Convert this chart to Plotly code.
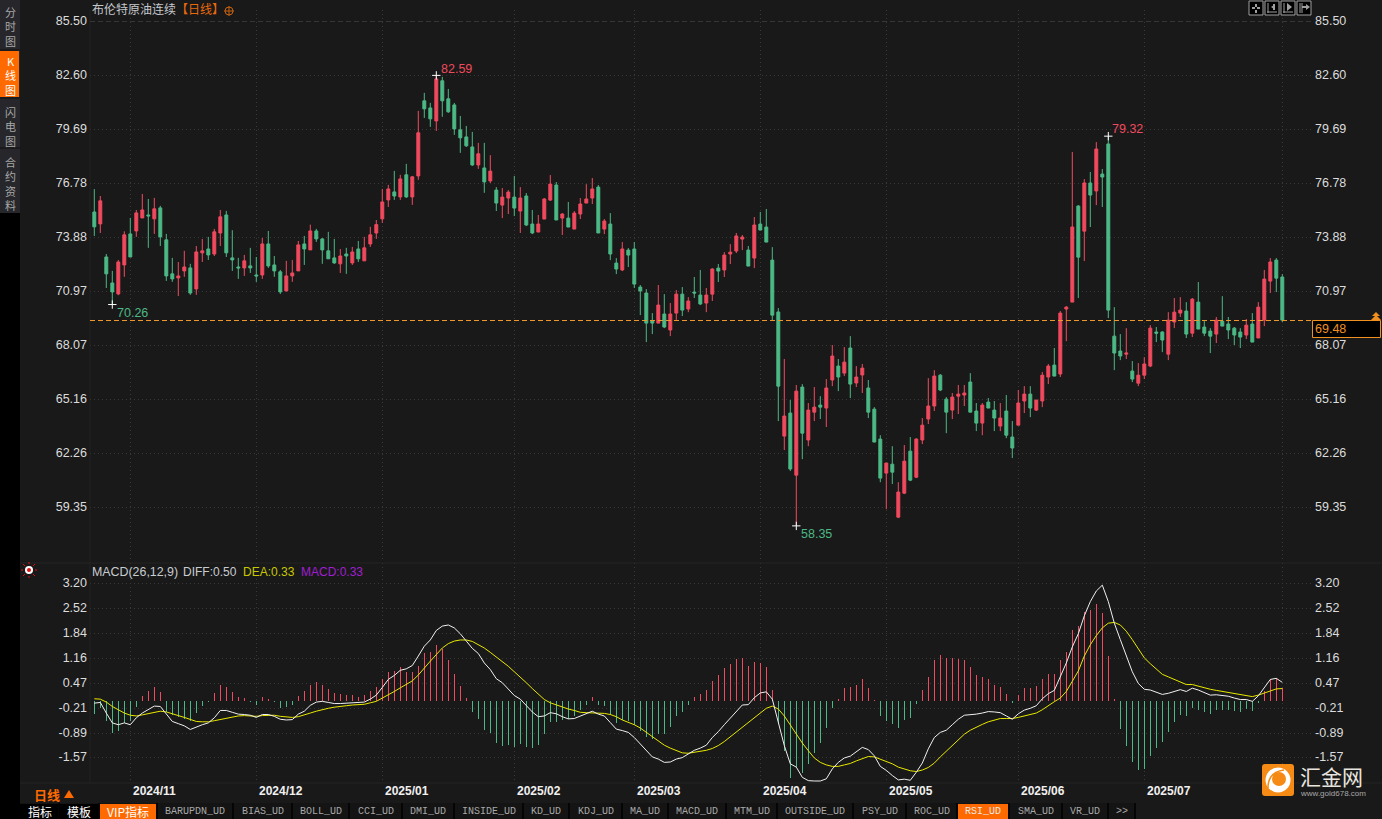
import plotly.graph_objects as go

opens = [75.24,74.60,72.82,71.42,70.83,72.39,74.06,74.22,74.92,75.08,74.87,75.46,73.74,71.91,71.69,72.07,72.23,71.10,73.04,73.25,72.98,74.11,75.08,72.77,72.28,72.23,72.34,71.85,71.85,73.52,72.39,72.02,70.99,71.80,72.07,73.52,73.20,74.22,73.79,73.15,72.77,72.45,72.98,72.50,73.25,72.61,73.52,74.11,74.87,75.89,76.32,76.05,77.24,76.05,77.18,81.22,80.84,80.14,82.30,81.33,81.00,79.66,79.28,78.74,77.77,77.61,
76.91,76.42,75.61,75.99,76.04,75.29,76.10,74.59,74.16,74.86,75.88,76.69,74.91,74.91,74.32,75.13,75.72,75.99,76.58,74.32,74.59,72.49,72.12,73.19,73.25,71.20,70.88,69.37,69.26,69.75,68.89,69.80,70.82,70.02,70.93,70.77,70.34,70.82,72.22,72.12,72.98,73.14,73.78,73.19,72.76,74.59,74.43,72.65,69.86,63.18,64.42,61.08,65.82,62.97,64.47,64.85,64.69,66.20,66.95,66.57,67.92,66.04,66.47,65.77,64.63,
63.02,61.19,61.67,58.82,60.11,62.37,60.97,62.97,64.10,64.80,66.46,65.17,64.58,65.33,65.39,66.09,64.53,63.88,65.01,64.58,63.72,64.53,63.13,63.77,65.07,65.44,64.58,65.07,66.36,67.00,66.52,70.02,70.39,75.56,74.21,76.80,76.37,77.28,78.90,68.56,67.76,67.59,66.68,66.03,66.46,66.95,68.78,68.78,67.59,69.32,69.80,69.91,68.72,70.39,69.05,68.83,68.67,69.37,69.21,68.99,68.78,68.62,69.21,68.46,69.42,71.52,72.65,71.74]
highs = [76.47,76.10,72.98,72.07,72.66,74.20,74.92,75.35,76.21,75.94,76.00,75.57,74.06,72.77,72.55,73.15,72.45,73.41,73.79,73.90,74.33,75.35,75.30,74.26,72.77,72.93,73.31,72.82,73.84,74.22,72.87,72.12,72.61,72.66,73.68,73.95,74.56,74.33,73.84,74.17,73.79,73.25,73.31,73.36,73.68,73.90,74.44,74.81,76.48,76.70,77.45,77.24,77.83,77.18,80.68,81.65,81.11,82.59,82.51,81.86,81.11,80.41,79.87,79.55,78.96,78.96,
78.30,76.58,76.53,76.42,77.18,76.58,76.26,75.35,75.08,75.99,77.23,76.85,75.18,75.78,75.29,75.99,76.74,77.07,76.69,74.86,75.18,72.76,73.62,73.30,73.62,71.31,71.09,69.80,71.31,70.82,70.34,71.04,71.20,70.66,71.74,72.12,71.15,72.22,72.44,73.08,73.51,74.11,74.00,73.41,74.97,75.24,75.40,73.35,70.07,67.33,65.12,65.93,65.98,64.96,65.82,65.33,66.25,68.08,67.33,67.97,68.56,66.95,67.06,66.20,64.74,
63.23,61.73,62.64,60.70,62.70,63.13,63.07,64.15,66.30,66.73,66.52,65.28,65.50,65.93,65.93,66.57,64.96,64.96,65.23,65.07,64.96,65.39,63.99,65.66,65.87,65.87,65.12,66.63,67.06,67.92,69.91,70.18,78.47,75.61,77.01,77.39,79.00,77.55,79.32,70.12,68.67,68.99,67.22,67.11,67.43,69.15,69.05,68.83,69.85,70.61,70.66,70.39,70.61,71.47,69.37,68.99,69.59,70.71,69.59,69.05,68.99,69.48,69.80,70.39,72.12,72.76,72.76,71.90]
lows = [73.95,74.11,71.15,70.26,70.76,71.75,72.82,73.90,74.92,73.31,74.06,73.41,71.53,71.48,70.72,71.75,70.78,70.78,72.55,72.66,72.87,73.41,72.82,72.07,71.64,71.80,71.96,71.48,71.64,72.23,71.75,70.83,70.99,71.48,72.07,72.39,73.20,73.63,72.45,72.72,72.45,71.96,71.91,72.39,72.55,72.61,73.36,73.79,74.65,75.51,75.89,75.89,76.00,75.62,76.97,80.30,79.82,79.60,80.36,80.57,79.39,78.42,78.74,77.72,77.56,76.27,
76.80,75.29,74.91,75.13,75.02,74.11,74.48,74.05,74.16,74.86,75.83,74.81,74.00,74.43,74.32,74.86,75.72,75.67,74.11,74.05,72.65,71.90,72.06,72.28,71.15,69.69,68.24,68.67,69.26,68.99,68.56,69.43,69.64,69.85,70.61,70.23,69.85,70.45,71.47,71.74,72.44,73.03,73.19,72.33,72.22,74.27,73.62,69.42,63.99,62.43,61.30,58.35,61.94,62.64,63.99,64.10,63.67,65.87,65.60,66.41,65.23,65.82,65.50,64.15,62.86,
60.70,59.25,60.60,58.77,60.06,60.76,60.92,62.75,63.83,64.53,65.60,63.34,64.10,64.37,64.80,64.47,63.45,63.23,64.69,63.45,63.45,63.07,62.00,63.77,64.42,64.20,64.53,64.74,65.98,66.41,66.36,68.29,70.39,70.61,72.60,74.43,75.61,75.51,69.53,66.73,67.27,67.33,66.09,65.87,66.25,66.89,68.24,67.70,67.27,68.99,69.59,68.46,68.51,68.94,68.56,67.65,68.19,69.10,68.40,68.08,67.92,68.40,68.24,68.46,69.10,70.88,70.93,69.32]
closes = [74.44,75.84,71.91,70.94,72.55,74.01,72.82,75.19,75.35,75.03,75.41,73.90,71.80,71.64,71.80,72.28,70.88,73.09,73.15,72.93,74.17,74.98,73.04,72.66,72.23,72.61,72.23,71.80,73.52,72.34,72.07,70.94,71.80,71.96,73.47,73.25,74.22,73.79,73.20,72.72,72.50,72.87,72.87,73.09,72.72,73.31,74.01,74.56,75.78,76.48,76.10,77.02,76.05,77.13,79.50,80.79,80.25,82.40,81.22,80.63,79.71,79.23,78.80,77.77,78.37,76.86,
77.44,75.72,76.04,76.31,75.45,75.99,74.54,74.11,74.59,75.94,76.74,74.81,75.13,74.43,75.18,75.67,75.94,76.48,74.11,74.75,72.98,72.17,73.25,72.92,71.36,70.99,69.26,69.26,70.23,69.05,69.75,70.82,69.96,70.45,70.88,70.29,70.77,72.17,72.06,72.92,73.08,73.95,73.89,72.33,74.54,74.27,73.62,69.69,65.87,64.26,61.41,65.60,63.34,64.58,64.74,64.74,65.77,67.49,66.36,67.16,65.98,66.36,66.84,64.47,62.86,
60.92,61.73,61.24,60.17,61.83,60.81,63.02,63.77,64.80,66.41,65.66,64.47,65.28,65.44,65.50,64.47,63.88,64.85,64.69,64.15,64.15,63.23,62.54,64.96,65.44,64.69,65.12,66.46,66.95,66.41,69.80,70.12,74.43,72.81,76.80,76.15,78.63,77.12,69.96,67.65,67.49,67.65,66.25,66.46,67.06,68.99,68.72,68.35,69.42,69.85,69.96,68.67,70.55,68.94,68.72,68.56,69.42,69.10,68.89,68.62,68.51,69.15,68.24,70.12,71.63,72.55,71.68,69.42]

macd_hist = [-0.37,-0.19,-0.57,-0.88,-0.83,-0.61,-0.55,-0.18,0.12,0.25,0.36,0.23,-0.31,-0.38,-0.45,-0.49,-0.55,-0.34,-0.15,-0.05,0.20,0.44,0.36,0.23,0.09,0.06,-0.05,-0.13,0.09,0.04,-0.05,-0.19,-0.18,-0.13,0.12,0.25,0.44,0.50,0.42,0.31,0.20,0.17,0.15,0.15,0.09,0.15,0.25,0.36,0.58,0.77,0.80,0.91,0.77,0.77,0.96,1.29,1.32,1.51,1.40,1.12,0.74,0.39,0.06,-0.32,-0.51,-0.81,-0.89,-1.16,
-1.24,-1.22,-1.27,-1.19,-1.27,-1.30,-1.22,-0.92,-0.59,-0.59,-0.54,-0.51,-0.43,-0.26,-0.13,0.09,-0.13,-0.15,-0.40,-0.62,-0.54,-0.56,-0.67,-0.83,-1.00,-1.05,-0.92,-0.92,-0.73,-0.43,-0.32,-0.13,0.09,0.17,0.28,0.55,0.69,0.88,0.99,1.15,1.18,0.96,1.07,1.04,0.91,0.28,-0.64,-1.38,-2.11,-1.81,-1.98,-1.73,-1.43,-1.16,-0.75,-0.21,0.04,0.34,0.36,0.44,0.58,0.34,0.02,-0.43,-0.56,-0.64,-0.75,-0.54,-0.48,-0.10,0.28,0.66,1.12,1.26,1.18,
1.18,1.15,1.12,0.93,0.69,0.66,0.58,0.44,0.36,0.17,-0.07,0.15,0.34,0.34,0.39,0.58,0.72,0.72,1.10,1.34,1.94,2.05,2.43,2.49,2.65,2.40,1.21,0.04,-0.78,-1.24,-1.68,-1.90,-1.87,-1.51,-1.30,-1.13,-0.86,-0.59,-0.40,-0.43,-0.21,-0.26,-0.32,-0.37,-0.26,-0.26,-0.26,-0.29,-0.32,-0.24,-0.29,-0.07,0.25,0.58,0.63,0.34]
macd_diff = [-0.07,-0.05,-0.34,-0.61,-0.66,-0.61,-0.66,-0.47,-0.34,-0.24,-0.15,-0.16,-0.37,-0.57,-0.63,-0.69,-0.79,-0.72,-0.66,-0.61,-0.47,-0.27,-0.27,-0.32,-0.37,-0.38,-0.40,-0.46,-0.38,-0.38,-0.43,-0.51,-0.53,-0.52,-0.37,-0.29,-0.13,-0.04,-0.02,-0.05,-0.08,-0.08,-0.07,-0.05,-0.05,-0.04,0.04,0.15,0.36,0.58,0.69,0.83,0.87,0.96,1.22,1.49,1.66,1.92,2.04,2.07,1.99,1.83,1.63,1.43,1.29,1.03,0.85,0.60,
0.49,0.31,0.14,0.04,-0.15,-0.31,-0.44,-0.42,-0.33,-0.36,-0.44,-0.50,-0.49,-0.42,-0.34,-0.29,-0.37,-0.42,-0.60,-0.78,-0.82,-0.87,-1.01,-1.19,-1.37,-1.54,-1.60,-1.69,-1.68,-1.60,-1.56,-1.47,-1.36,-1.30,-1.22,-1.01,-0.85,-0.66,-0.47,-0.28,-0.12,-0.11,0.08,0.21,0.24,0.04,-0.60,-1.23,-1.73,-1.82,-2.10,-2.19,-2.20,-2.20,-2.14,-1.87,-1.69,-1.57,-1.52,-1.40,-1.28,-1.34,-1.51,-1.80,-1.91,-2.05,-2.17,-2.15,-2.18,-1.96,-1.71,-1.32,-1.01,-0.87,-0.81,
-0.66,-0.51,-0.40,-0.39,-0.37,-0.34,-0.30,-0.31,-0.33,-0.42,-0.51,-0.36,-0.26,-0.21,-0.14,0.05,0.19,0.28,0.65,1.03,1.47,1.83,2.32,2.71,3.00,3.16,2.71,2.12,1.67,1.23,0.79,0.47,0.31,0.29,0.24,0.17,0.20,0.24,0.30,0.25,0.34,0.29,0.23,0.15,0.16,0.15,0.12,0.07,0.03,0.03,-0.02,0.13,0.35,0.58,0.61,0.50]
macd_dea = [0.05,0.04,-0.04,-0.16,-0.25,-0.34,-0.40,-0.42,-0.39,-0.35,-0.32,-0.29,-0.31,-0.35,-0.41,-0.46,-0.52,-0.57,-0.58,-0.58,-0.55,-0.52,-0.48,-0.44,-0.42,-0.41,-0.42,-0.43,-0.41,-0.40,-0.40,-0.43,-0.45,-0.46,-0.44,-0.40,-0.34,-0.29,-0.24,-0.21,-0.18,-0.15,-0.14,-0.12,-0.11,-0.10,-0.06,-0.02,0.07,0.15,0.25,0.35,0.44,0.54,0.70,0.90,1.08,1.26,1.44,1.56,1.63,1.66,1.66,1.62,1.54,1.44,1.32,1.19,
1.08,0.94,0.79,0.65,0.49,0.33,0.17,0.03,-0.06,-0.12,-0.17,-0.23,-0.27,-0.32,-0.33,-0.33,-0.34,-0.35,-0.38,-0.44,-0.53,-0.59,-0.66,-0.75,-0.87,-0.99,-1.10,-1.22,-1.30,-1.37,-1.43,-1.44,-1.42,-1.39,-1.36,-1.31,-1.23,-1.12,-0.99,-0.85,-0.72,-0.59,-0.45,-0.33,-0.21,-0.15,-0.23,-0.42,-0.67,-0.91,-1.16,-1.37,-1.57,-1.69,-1.76,-1.80,-1.80,-1.76,-1.72,-1.65,-1.58,-1.53,-1.54,-1.60,-1.66,-1.73,-1.82,-1.88,-1.92,-1.94,-1.90,-1.83,-1.71,-1.54,-1.39,
-1.23,-1.07,-0.92,-0.81,-0.72,-0.65,-0.58,-0.54,-0.49,-0.49,-0.49,-0.46,-0.42,-0.38,-0.34,-0.25,-0.13,-0.03,0.07,0.25,0.53,0.81,1.22,1.53,1.78,1.99,2.12,2.14,2.07,1.90,1.67,1.41,1.17,1.01,0.87,0.72,0.65,0.58,0.52,0.44,0.44,0.39,0.36,0.31,0.28,0.25,0.24,0.20,0.17,0.15,0.11,0.15,0.20,0.27,0.32,0.33]

price_ticks = [85.50, 82.60, 79.69, 76.78, 73.88, 70.97, 68.07, 65.16, 62.26, 59.35]
macd_ticks = [3.20, 2.52, 1.84, 1.16, 0.47, -0.21, -0.89, -1.57]
month_labels = ["2024/11", "2024/12", "2025/01", "2025/02", "2025/03", "2025/04", "2025/05", "2025/06", "2025/07"]
month_bars = [6, 27, 48, 70, 90, 111, 132, 154, 175]
extra_grid_bar = [198]
last_price = 69.48
price_line_level = 69.40
extreme_bars = [57, 3, 117, 169]
extreme_vals = [82.59, 70.26, 58.35, 79.32]
tab_names = ["指标", "模板", "VIP指标", "BARUPDN_UD", "BIAS_UD", "BOLL_UD", "CCI_UD", "DMI_UD", "INSIDE_UD", "KD_UD", "KDJ_UD", "MA_UD", "MACD_UD", "MTM_UD", "OUTSIDE_UD", "PSY_UD", "ROC_UD", "RSI_UD", "SMA_UD", "VR_UD", ">>"]
tab_edges = [20, 59, 99, 157, 233, 292, 349, 402, 454, 523, 569, 622, 668, 726, 777, 853, 906, 957, 1009, 1062, 1108, 1135]

W, H = 1382, 819
BG = "#191919"
RED = "#F04A5E"
GREEN = "#4CB885"
ORANGE = "#FF6A00"
GRID = "#383838"
CJK = "Noto Sans CJK SC"
SANS = "Liberation Sans"
MONO = "Liberation Mono"

def fx(px): return px / W
def fy(py): return 1 - py / H

shapes, annots = [], []

def rect(x0, y0, x1, y1, fill, line=None, lw=1):
    shapes.append(dict(type="rect", xref="paper", yref="paper", x0=fx(x0), x1=fx(x1), y0=fy(y0), y1=fy(y1),
                       fillcolor=fill, line=dict(color=line or fill, width=lw if line else 0), layer="above"))

def seg(x0, y0, x1, y1, color, lw=1, dash=None):
    ln = dict(color=color, width=lw)
    if dash:
        ln["dash"] = dash
    shapes.append(dict(type="line", xref="paper", yref="paper", x0=fx(x0), x1=fx(x1), y0=fy(y0), y1=fy(y1),
                       line=ln, layer="above"))

def circ(cx, cy, r, fill, line=None):
    shapes.append(dict(type="circle", xref="paper", yref="paper", x0=fx(cx - r), x1=fx(cx + r), y0=fy(cy + r), y1=fy(cy - r),
                       fillcolor=fill, line=dict(color=line or fill, width=1 if line else 0), layer="above"))

def poly(points, fill):
    d = "M " + " L ".join(f"{fx(x)} {fy(y)}" for x, y in points) + " Z"
    shapes.append(dict(type="path", xref="paper", yref="paper", path=d, fillcolor=fill, line=dict(width=0), layer="above"))

def text(x, y, s, color="#d8d8d8", size=12, font=SANS, anchor="left", bold=False):
    if bold:
        s = f"<b>{s}</b>"
    annots.append(dict(xref="paper", yref="paper", x=fx(x), y=fy(y), text=s, showarrow=False, xanchor=anchor, yanchor="middle",
                       font=dict(color=color, size=size, family=font), borderpad=0, borderwidth=0))

# left sidebar
rect(0, 0, 20, H, "#000000")
rect(0, 0, 20, 213, "#26262b")
rect(0, 51, 19, 97, ORANGE)
seg(0, 50, 20, 50, "#111111")
seg(0, 98, 20, 98, "#111111")
seg(0, 148, 20, 148, "#111111")
text(10, 27, "分<br>时<br>图", "#a8a8a8", 11, CJK, "center")
text(10, 75.5, "K<br>线<br>图", "#ffffff", 11, CJK, "center")
text(10, 126, "闪<br>电<br>图", "#a8a8a8", 11, CJK, "center")
text(10, 184, "合<br>约<br>资<br>料", "#a8a8a8", 11, CJK, "center")

# pane separators
seg(20, 563, 1382, 563, "#242424")
seg(20, 783, 1382, 783, "#242424")
seg(90, 10, 90, 783, "#222222")
seg(90, 21.5, 1312, 21.5, "#363636", 1, "4px,4px")

# header
text(92, 9, "布伦特原油连续", "#c4c8cc", 12, CJK)
text(176, 9, "【日线】", "#e8690c", 12, CJK)
circ(229, 11, 4, "rgba(0,0,0,0)", "#c8600c")
seg(224, 11, 234, 11, "#c8600c")
seg(229, 6, 229, 16, "#c8600c")

# toolbar icons
for x0 in (1249, 1265, 1281, 1297):
    rect(x0, 1, x0 + 14, 15, "#000000", "#a0a0a0")
seg(1252, 8, 1255, 8, "#a0a0a0", 2); seg(1257, 8, 1260, 8, "#a0a0a0", 2)
seg(1256, 4, 1256, 7, "#a0a0a0", 2); seg(1256, 10, 1256, 13, "#a0a0a0", 2)
seg(1268, 3, 1268, 13, "#a0a0a0"); seg(1267, 12, 1277, 12, "#a0a0a0")
seg(1274, 4, 1274, 10, "#a0a0a0", 2)
poly([(1274, 5), (1274, 9), (1271, 7)], "#a0a0a0")
seg(1284, 3, 1284, 13, "#a0a0a0"); seg(1283, 12, 1293, 12, "#a0a0a0")
poly([(1287, 3), (1287, 11), (1292, 7)], "#a0a0a0")
seg(1300, 3, 1300, 13, "#a0a0a0"); seg(1302, 3, 1302, 13, "#a0a0a0")
seg(1302, 7, 1307, 7, "#a0a0a0", 2)
poly([(1306, 4), (1306, 10), (1310, 7)], "#a0a0a0")

# price tag
rect(1312.5, 320.5, 1380.5, 337.5, "#000000", "#F09020")
text(1315, 329, f"{last_price:.2f}", "#F09020", 12.5)
poly([(1372, 316), (1380, 316), (1376, 312)], "#F09020")
poly([(1371, 320), (1381, 320), (1376, 315)], "#F09020")

# MACD header
text(92, 572, "MACD(26,12,9)", "#c8ccd0", 12.4)
text(183, 572, "DIFF:0.50", "#c8ccd0", 12)
text(243, 572, "DEA:0.33", "#c8c800", 12)
text(301, 572, "MACD:0.33", "#a01ed0", 12)
circ(29, 570, 4, "#ffffff")
circ(29, 570, 2, "#e01010")
for a, b, c, d in ((23, 570, 21, 570), (35, 570, 37, 570), (29, 564, 29, 562), (29, 576, 29, 578),
                   (25, 566, 23, 564), (33, 566, 35, 564), (25, 574, 23, 576), (33, 574, 35, 576)):
    seg(a, b, c, d, "#e01010")

# period label
text(34, 794, "日线", ORANGE, 13, CJK, bold=True)
poly([(64, 798), (74, 798), (69, 790)], ORANGE)

# bottom tabs
rect(20, 803, 1135, H, "#141414")
for i, name in enumerate(tab_names):
    x0, x1 = tab_edges[i], tab_edges[i + 1]
    mid = (x0 + x1) / 2
    if name in ("VIP指标", "RSI_UD"):
        rect(x0 + 1, 804, x1 - 1, H, ORANGE)
    if i < 2:
        rect(x0, 804, x1 - 1, H, "#000000")
    seg(x1, 803, x1, H, "#000000", 1.5)
    has_cjk = name in ("指标", "模板", "VIP指标")
    text(mid, 811.5, name, "#ffffff" if has_cjk else ("#e8e8e8" if name == "RSI_UD" else "#a8a8a8"),
         12 if i < 3 else 10, CJK if has_cjk else MONO, "center")

# watermark
r = 3
L, T, Rr, B = 1262, 764, 1294, 796
path = (f"M {fx(L+r)} {fy(T)} L {fx(Rr-r)} {fy(T)} Q {fx(Rr)} {fy(T)} {fx(Rr)} {fy(T+r)} L {fx(Rr)} {fy(B-r)} "
        f"Q {fx(Rr)} {fy(B)} {fx(Rr-r)} {fy(B)} L {fx(L+r)} {fy(B)} Q {fx(L)} {fy(B)} {fx(L)} {fy(B-r)} L {fx(L)} {fy(T+r)} "
        f"Q {fx(L)} {fy(T)} {fx(L+r)} {fy(T)} Z")
shapes.append(dict(type="path", xref="paper", yref="paper", path=path, fillcolor="#F58A14", line=dict(width=0), layer="above"))
circ(1278, 780, 12.5, "#ffffff")
circ(1279, 779, 7, "#F58A14")
arc = f"M {fx(1268)} {fy(788)} Q {fx(1268)} {fy(772)} {fx(1284)} {fy(770)}"
shapes.append(dict(type="path", xref="paper", yref="paper", path=arc, line=dict(color="#F58A14", width=1.5), layer="above"))
text(1300, 775.5, "汇金网", "#e8e4de", 21, CJK)
text(1300, 793, "www.gold678.com", "#a8a8a8", 8, SANS)

traces = []
bars = list(range(len(opens)))
traces.append(go.Candlestick(x=bars, open=opens, high=highs, low=lows, close=closes, xaxis="x", yaxis="y",
                             increasing=dict(line=dict(color=RED, width=1), fillcolor=RED),
                             decreasing=dict(line=dict(color=GREEN, width=1), fillcolor=GREEN),
                             whiskerwidth=0, hoverinfo="skip", showlegend=False))
traces.append(go.Scatter(x=extreme_bars, y=extreme_vals, mode="markers", xaxis="x", yaxis="y", hoverinfo="skip", showlegend=False,
                         marker=dict(symbol="cross-thin", size=6, line=dict(color="#ffffff", width=1))))
traces.append(go.Bar(x=list(range(len(macd_hist))), y=macd_hist, width=0.18, xaxis="x2", yaxis="y2", hoverinfo="skip", showlegend=False,
                     marker=dict(color=[RED if v >= 0 else GREEN for v in macd_hist], line=dict(width=0))))
traces.append(go.Scatter(x=list(range(len(macd_dea))), y=macd_dea, mode="lines", xaxis="x2", yaxis="y2", hoverinfo="skip", showlegend=False,
                         line=dict(color="#e8e800", width=1)))
traces.append(go.Scatter(x=list(range(len(macd_diff))), y=macd_diff, mode="lines", xaxis="x2", yaxis="y2", hoverinfo="skip", showlegend=False,
                         line=dict(color="#f0f0f0", width=1)))
# carriers for the right-hand axes
traces.append(go.Scatter(x=[bars[-1]], y=[price_ticks[0]], mode="markers", marker=dict(opacity=0), xaxis="x", yaxis="y3", hoverinfo="skip", showlegend=False))
traces.append(go.Scatter(x=[bars[-1]], y=[macd_ticks[0]], mode="markers", marker=dict(opacity=0), xaxis="x2", yaxis="y4", hoverinfo="skip", showlegend=False))

for n, v, dx, dy, col in ((extreme_bars[0], extreme_vals[0], 3, -6, RED), (extreme_bars[1], extreme_vals[1], 3, 8, GREEN),
                          (extreme_bars[2], extreme_vals[2], 3, 8, GREEN), (extreme_bars[3], extreme_vals[3], 2, -7, RED)):
    annots.append(dict(x=n, y=v, xref="x", yref="y", text=f"{v:.2f}", showarrow=False, xanchor="left", yanchor="middle",
                       xshift=dx, yshift=-dy, font=dict(color=col, size=12.5, family=SANS)))
for n, s in zip(month_bars, month_labels):
    annots.append(dict(x=n, y=fy(791), xref="x2", yref="paper", text=f"<b>{s}</b>", showarrow=False, xanchor="left", yanchor="middle",
                       xshift=1, font=dict(color="#f0f0f0", size=12, family=SANS)))

X_RANGE = [(90 - 94.3) / 6, (1312 - 94.3) / 6]
P_SCALE = (price_ticks[0] - price_ticks[-1]) / 486
P_RANGE = [price_ticks[0] - (562 - 21.3) * P_SCALE, price_ticks[0] + (21.3 - 10) * P_SCALE]
M_SCALE = 0.02737
M_RANGE = [macd_ticks[0] - (783 - 583.7) * M_SCALE, macd_ticks[0] + (583.7 - 563) * M_SCALE]

def xax(anchor):
    return dict(domain=[fx(90), fx(1312)], range=X_RANGE, anchor=anchor, tickmode="array",
                tickvals=month_bars + extra_grid_bar, showticklabels=False, showgrid=True, gridcolor=GRID, griddash="1px,3px",
                gridwidth=1, zeroline=False, showline=False, ticks="", rangeslider=dict(visible=False), fixedrange=True)

def yax(dom, rng, vals, side="left", overlay=None, grid=True):
    d = dict(domain=dom, range=rng, side=side, tickmode="array", tickvals=vals, ticktext=[f"{v:.2f}" for v in vals],
             showgrid=grid, gridcolor=GRID, griddash="1px,3px", gridwidth=1, zeroline=False, showline=False, ticks="", automargin=False,
             tickfont=dict(color="#dcdcdc", size=12.5, family=SANS), fixedrange=True, ticklabelstandoff=2, ticklabelshift=-1)
    if overlay:
        d["overlaying"] = overlay
        d["anchor"] = "free"
        d["position"] = fx(1312)
    return d

DOM1 = [fy(562), fy(10)]
DOM2 = [fy(783), fy(563)]
shapes.append(dict(type="line", xref="x", yref="y", x0=X_RANGE[0], x1=X_RANGE[1], y0=price_line_level, y1=price_line_level,
                   line=dict(color="#F09A2A", width=1, dash="5px,3px"), layer="above"))

fig = go.Figure(data=traces)
fig.update_layout(width=W, height=H, margin=dict(l=0, r=0, t=0, b=0), paper_bgcolor=BG, plot_bgcolor=BG, showlegend=False,
                  bargap=0, autosize=False,
                  xaxis=xax("y"), xaxis2=xax("y2"),
                  yaxis=yax(DOM1, P_RANGE, price_ticks), yaxis2=yax(DOM2, M_RANGE, macd_ticks),
                  yaxis3=yax(DOM1, P_RANGE, price_ticks, "right", "y", False),
                  yaxis4=yax(DOM2, M_RANGE, macd_ticks, "right", "y2", False),
                  shapes=shapes, annotations=annots)
fig.write_html("out.html", config=dict(displayModeBar=False, staticPlot=True),
               post_script="document.body.style.margin='0';document.body.style.overflow='hidden';")
